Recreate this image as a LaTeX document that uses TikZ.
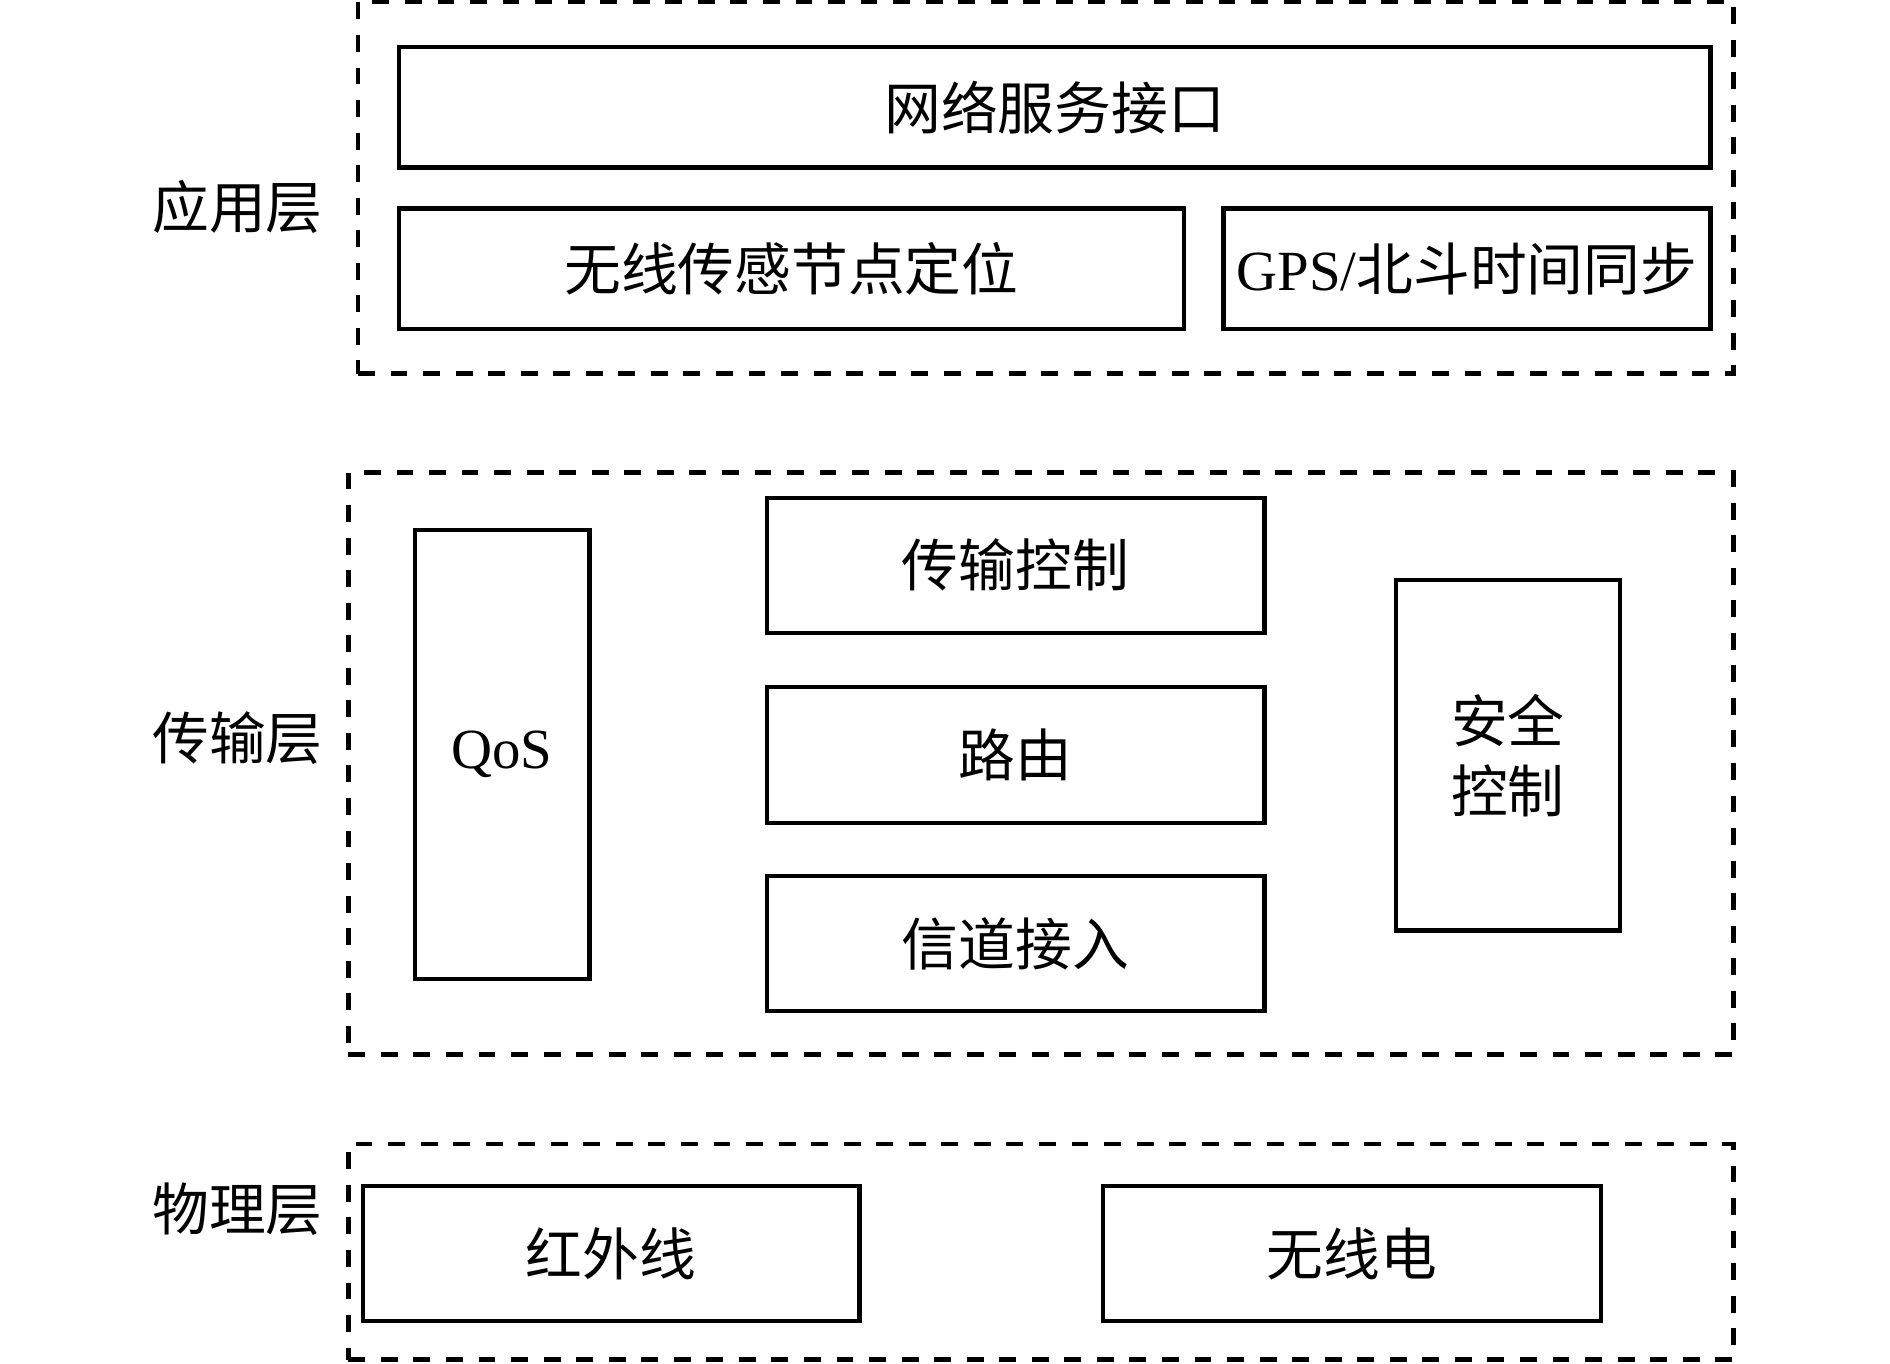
\documentclass[tikz,border=0pt]{standalone}
\usepackage{fontspec}
\setmainfont{Liberation Serif}
\newfontfamily\cjk{Noto Sans CJK SC}
\begin{document}
\begin{tikzpicture}
[line width=1pt, color=black,
 every node/.style={font=\cjk\fontsize{13.4}{16.5}\selectfont, inner sep=0pt},
 blk/.style={draw, rectangle, align=center},
 layer/.style={draw, rectangle, line width=1.1pt, dash pattern=on 0.14cm off 0.13cm}]
\useasboundingbox (0,0) rectangle (15.68,-11.316);
%% layers
  \node [layer, minimum width=11.41cm, minimum height=3.09cm] (app) at (8.675,-1.555) {};
  \node [layer, minimum width=11.49cm, minimum height=4.83cm] (trans) at (8.635,-6.335) {};
  \node [layer, minimum width=11.49cm, minimum height=1.79cm] (phys) at (8.635,-10.385) {};
  \node (lapp) at (1.97,-1.72) {应用层};
  \node (ltrans) at (1.97,-6.12) {传输层};
  \node (lphys) at (1.97,-10.03) {物理层};
%% application layer
  \node [blk, minimum width=10.88cm, minimum height=1cm] (n1) at (8.75,-0.89) {网络服务接口};
  \node [blk, minimum width=6.51cm, minimum height=1cm] (n2) at (6.565,-2.23) {无线传感节点定位};
  \node [blk, minimum width=4.04cm, minimum height=1cm] (n3) at (12.17,-2.23) {{\rmfamily GPS/}北斗时间同步};
%% transport layer
  \node [blk, minimum width=1.45cm, minimum height=3.72cm] (qos) at (4.165,-6.26) {\rmfamily QoS};
  \node [blk, minimum width=4.13cm, minimum height=1.12cm] (t1) at (8.425,-4.69) {传输控制};
  \node [blk, minimum width=4.13cm, minimum height=1.13cm] (t2) at (8.425,-6.265) {路由};
  \node [blk, minimum width=4.13cm, minimum height=1.12cm] (t3) at (8.425,-7.83) {信道接入};
  \node [blk, minimum width=1.86cm, minimum height=2.91cm] (sec) at (12.51,-6.265) {安全\\控制};
%% physical layer
  \node [blk, minimum width=4.12cm, minimum height=1.12cm] (p1) at (5.07,-10.40) {红外线};
  \node [blk, minimum width=4.13cm, minimum height=1.12cm] (p2) at (11.215,-10.40) {无线电};
\end{tikzpicture}
\end{document}
